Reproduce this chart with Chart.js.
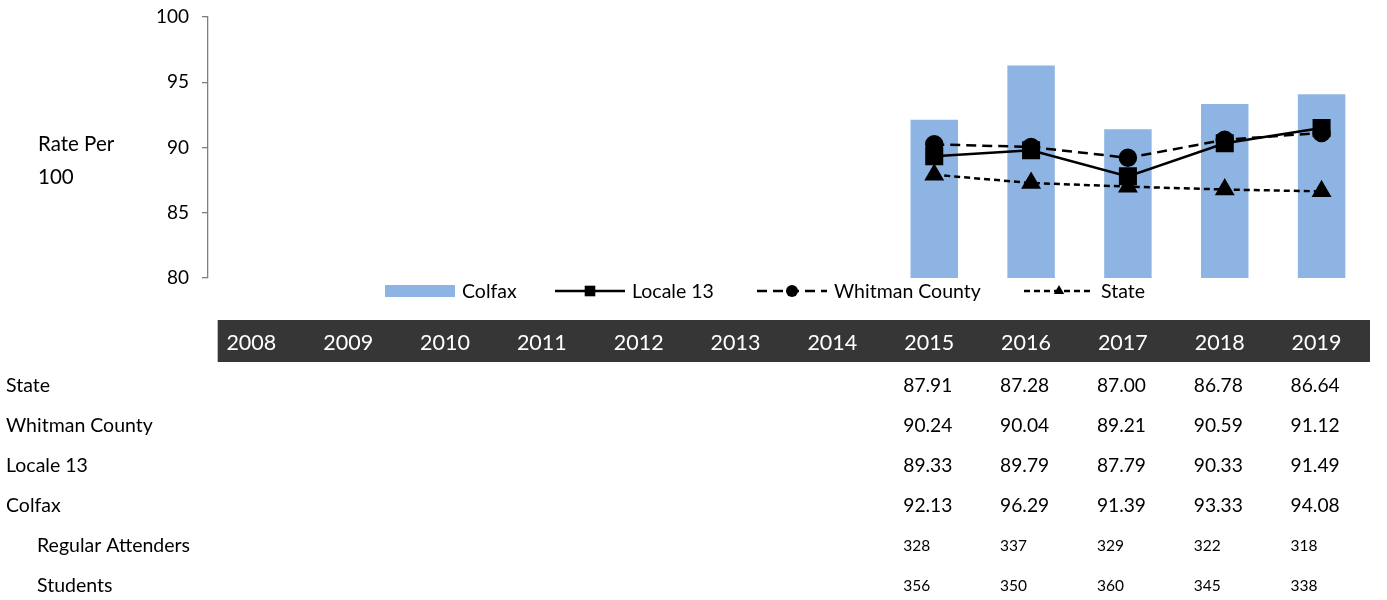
<!DOCTYPE html>
<html>
<head>
<meta charset="utf-8">
<script src="https://cdn.jsdelivr.net/npm/chart.js@4.4.1/dist/chart.umd.min.js"></script>
<style>
  html, body { margin: 0; padding: 0; background: #fff; }
  #wrap { width: 1387px; height: 600px; position: relative; }
</style>
</head>
<body>
<div id="wrap"><canvas id="rateChart" width="1387" height="600"></canvas></div>
<script>
var years = ['2008', '2009', '2010', '2011', '2012', '2013', '2014', '2015', '2016', '2017', '2018', '2019'];
var colfax = [null, null, null, null, null, null, null, 92.13, 96.29, 91.39, 93.33, 94.08];
var locale13 = [null, null, null, null, null, null, null, 89.33, 89.79, 87.79, 90.33, 91.49];
var whitman = [null, null, null, null, null, null, null, 90.24, 90.04, 89.21, 90.59, 91.12];
var state = [null, null, null, null, null, null, null, 87.91, 87.28, 87.00, 86.78, 86.64];
var regularAttenders = [null, null, null, null, null, null, null, 328, 337, 329, 322, 318];
var students = [null, null, null, null, null, null, null, 356, 350, 360, 345, 338];
var yTicks = [80, 85, 90, 95, 100];

var FONT = 'Lato, "Open Sans", sans-serif';
var BAR_COLOR = '#8eb4e3';

// table rows shown under the chart
var tableRows = [
    { label: 'State', values: state, fmt: 2, indent: false },
    { label: 'Whitman County', values: whitman, fmt: 2, indent: false },
    { label: 'Locale 13', values: locale13, fmt: 2, indent: false },
    { label: 'Colfax', values: colfax, fmt: 2, indent: false },
    { label: 'Regular Attenders', values: regularAttenders, fmt: 0, indent: true },
    { label: 'Students', values: students, fmt: 0, indent: true }
];

var extrasPlugin = {
    id: 'extras',
    afterDraw: function(chart) {
        var ctx = chart.ctx;
        var xs = chart.scales.x;
        var area = chart.chartArea;
        ctx.save();

        // y axis title
        ctx.fillStyle = '#000';
        ctx.font = '20.5px ' + FONT;
        ctx.textAlign = 'left';
        ctx.textBaseline = 'middle';
        ctx.fillText('Rate Per', 38, 144);
        ctx.fillText('100', 38, 177);

        // legend
        var ly = 291;
        var items = [
            { x: 385, type: 'bar', text: 'Colfax' },
            { x: 555, type: 'line', ds: 1, text: 'Locale 13' },
            { x: 757, type: 'line', ds: 2, text: 'Whitman County' },
            { x: 1024, type: 'line', ds: 3, text: 'State' }
        ];
        items.forEach(function(it) {
            if (it.type === 'bar') {
                ctx.fillStyle = BAR_COLOR;
                ctx.fillRect(it.x, ly - 6, 70, 12);
            } else {
                var ds = chart.data.datasets[it.ds];
                ctx.strokeStyle = '#000';
                ctx.lineWidth = ds.borderWidth;
                ctx.setLineDash(ds.borderDash || []);
                ctx.beginPath();
                ctx.moveTo(it.x, ly);
                ctx.lineTo(it.x + 70, ly);
                ctx.stroke();
                ctx.setLineDash([]);
                ctx.fillStyle = '#000';
                Chart.helpers.drawPoint(ctx, { pointStyle: ds.pointStyle, radius: ds.pointStyle === 'rect' ? 7.5 : 6, borderWidth: 0 }, it.x + 35, ly);
            }
            ctx.fillStyle = '#000';
            ctx.font = '19.5px ' + FONT;
            ctx.textAlign = 'left';
            ctx.textBaseline = 'middle';
            ctx.fillText(it.text, it.x + 77, ly + 1);
        });

        // header band with years
        var step = xs.getPixelForValue(1) - xs.getPixelForValue(0);
        var bandLeft = xs.getPixelForValue(0) - step * 0.4;
        ctx.fillStyle = '#363636';
        ctx.fillRect(bandLeft, 320, area.right - bandLeft, 42);
        ctx.fillStyle = '#fff';
        ctx.font = '21.5px ' + FONT;
        years.forEach(function(y, i) {
            ctx.fillText(y, xs.getPixelForValue(i) - step * 0.31, 343);
        });

        // data rows
        tableRows.forEach(function(row, r) {
            var ry = 386 + r * 40;
            ctx.fillStyle = '#000';
            ctx.font = '19.5px ' + FONT;
            ctx.fillText(row.label, row.indent ? 37 : 6, ry);
            ctx.font = (row.fmt ? '19.2px ' : '15.5px ') + FONT;
            row.values.forEach(function(v, i) {
                if (v === null) return;
                ctx.fillText(v.toFixed(row.fmt), xs.getPixelForValue(i) - step * 0.32, ry);
            });
        });
        ctx.restore();
    }
};

var ctx = document.getElementById('rateChart').getContext('2d');
var rateChart = new Chart(ctx, {
    data: {
        labels: years,
        datasets: [{
            type: 'bar',
            label: 'Colfax',
            data: colfax,
            backgroundColor: BAR_COLOR,
            barPercentage: 0.49,
            categoryPercentage: 1,
            order: 4
        }, {
            type: 'line',
            label: 'Locale 13',
            data: locale13,
            borderColor: '#000',
            backgroundColor: '#000',
            borderWidth: 2.5,
            pointStyle: 'rect',
            pointRadius: 11,
            order: 1
        }, {
            type: 'line',
            label: 'Whitman County',
            data: whitman,
            borderColor: '#000',
            backgroundColor: '#000',
            borderWidth: 2.5,
            borderDash: [10, 6],
            pointStyle: 'circle',
            pointRadius: 8,
            order: 2
        }, {
            type: 'line',
            label: 'State',
            data: state,
            borderColor: '#000',
            backgroundColor: '#000',
            borderWidth: 2.5,
            borderDash: [6, 4],
            pointStyle: 'triangle',
            pointRadius: 9,
            order: 3
        }]
    },
    options: {
        responsive: false,
        animation: false,
        layout: { padding: { left: 0, right: 17, top: 17, bottom: 322 } },
        plugins: {
            legend: { display: false },
            tooltip: { enabled: false }
        },
        scales: {
            x: {
                type: 'category',
                display: false,
                offset: true
            },
            y: {
                min: 80,
                max: 100,
                afterFit: function(scale) {
                    scale.width = 208;
                    scale.paddingTop = 0;
                    scale.paddingBottom = 0;
                },
                afterBuildTicks: function(scale) {
                    scale.ticks = yTicks.map(function(v) { return { value: v }; });
                },
                border: { color: '#7f7f7f', width: 1.3 },
                grid: { drawOnChartArea: false, drawTicks: true, tickLength: 6, color: '#7f7f7f', lineWidth: 1.3 },
                ticks: {
                    padding: 13,
                    color: '#000',
                    font: { family: FONT, size: 19 }
                }
            }
        }
    },
    plugins: [extrasPlugin]
});
</script>
</body>
</html>
